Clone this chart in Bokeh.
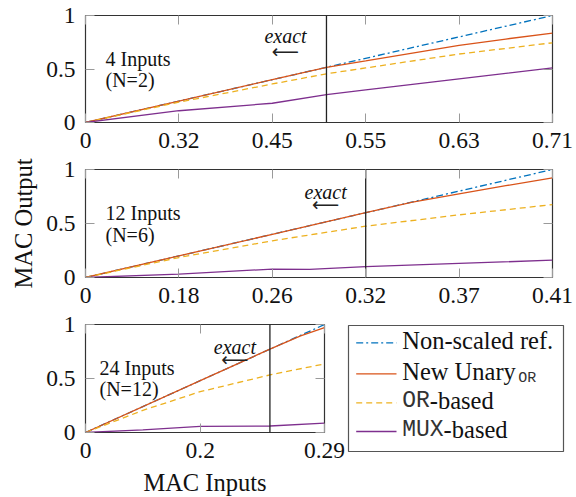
from bokeh.plotting import figure
from bokeh.models import Range1d, FixedTicker, LinearAxis
from bokeh.layouts import column, row
from bokeh.embed import file_html
from bokeh.resources import INLINE
from bokeh.core.properties import value

# ---------------- data ----------------
# Panel 1: 4 inputs (N=2)
p1_x_ticks = [0, 0.1, 0.2, 0.3, 0.4, 0.5]
p1_x_labels = ["0", "0.32", "0.45", "0.55", "0.63", "0.71"]
p1_ref_x = [0, 0.5]
p1_ref_y = [0, 1]
p1_new_x = [0, 0.1, 0.2, 0.258, 0.3, 0.35, 0.4, 0.45, 0.5]
p1_new_y = [0, 0.2, 0.4, 0.516, 0.575, 0.648, 0.72, 0.78, 0.835]
p1_or_x = [0, 0.1, 0.2, 0.258, 0.3, 0.4, 0.5]
p1_or_y = [0, 0.19, 0.36, 0.455, 0.51, 0.64, 0.745]
p1_mux_x = [0, 0.1, 0.2, 0.258, 0.3, 0.4, 0.5]
p1_mux_y = [0, 0.11, 0.18, 0.26, 0.305, 0.408, 0.51]
p1_exact = 0.258

# Panel 2: 12 inputs (N=6)
p2_x_ticks = [0, 1 / 30, 2 / 30, 3 / 30, 4 / 30, 5 / 30]
p2_x_labels = ["0", "0.18", "0.26", "0.32", "0.37", "0.41"]
p2_ref_x = [0, 1 / 6]
p2_ref_y = [0, 1]
p2_new_x = [0, 1 / 30, 2 / 30, 0.1, 0.1167, 0.1333, 0.15, 1 / 6]
p2_new_y = [0, 0.2, 0.4, 0.6, 0.698, 0.775, 0.85, 0.922]
p2_or_x = [0, 1 / 30, 2 / 30, 0.1, 4 / 30, 1 / 6]
p2_or_y = [0, 0.185, 0.34, 0.475, 0.58, 0.675]
p2_mux_x = [0, 1 / 30, 2 / 30, 0.08, 0.1, 4 / 30, 1 / 6]
p2_mux_y = [0, 0.031, 0.078, 0.076, 0.1, 0.13, 0.16]
p2_exact = 0.1

# Panel 3: 24 inputs (N=12)
p3_x_ticks = [0, 0.04, 1 / 12]
p3_x_labels = ["0", "0.2", "0.29"]
p3_ref_x = [0, 1 / 12]
p3_ref_y = [0, 1]
p3_new_x = [0, 0.04, 0.0643, 0.075, 1 / 12]
p3_new_y = [0, 0.48, 0.772, 0.895, 0.97]
p3_or_x = [0, 0.02, 0.04, 0.0643, 1 / 12]
p3_or_y = [0, 0.205, 0.378, 0.533, 0.635]
p3_mux_x = [0, 0.02, 0.04, 0.0643, 1 / 12]
p3_mux_y = [0, 0.025, 0.056, 0.06, 0.087]
p3_exact = 0.0643

y_ticks = [0, 0.5, 1]
y_labels = ["0", "0.5", "1"]

panel_titles = ["4 Inputs", "12 Inputs", "24 Inputs"]
panel_subs = ["(N=2)", "(N=6)", "(N=12)"]

# ---------------- style ----------------
BLUE = "#0072BD"
RED = "#D95319"
ORANGE = "#EDB120"
PURPLE = "#7E2F8E"
SERIF = "Liberation Serif"
MONO = "Liberation Mono"
TICK_FS = "23.5px"
LABEL_FS = "24.5px"
DASHDOT = "7 3 2 3"
DASHED = "6 4"


def style_axis(ax, ticks, labels, show_labels=True):
    ax.ticker = FixedTicker(ticks=ticks)
    ax.major_label_overrides = dict(zip(ticks, labels))
    ax.major_tick_in = 9
    ax.major_tick_out = 0
    ax.minor_tick_line_color = None
    ax.major_tick_line_color = "#9a9a9a"
    ax.major_tick_line_width = 1
    ax.axis_line_color = None
    ax.major_label_text_font = SERIF
    ax.major_label_text_color = "#111111"
    if show_labels:
        ax.major_label_text_font_size = TICK_FS
    else:
        ax.major_label_text_font_size = "0px"
        ax.major_label_standoff = 0


def make_panel(x_end, x_ticks, x_labels, ref, new, orv, mux, exact_x, idx,
               frame_w, frame_h, b_top, b_bottom, b_right,
               title_y, sub_y, title_dx, exact_dx, exact_y, arrow_y,
               y_label=None, x_label=None):
    p = figure(frame_width=frame_w, frame_height=frame_h,
               x_range=Range1d(0, x_end), y_range=Range1d(0, 1),
               min_border_left=85, min_border_right=b_right,
               min_border_top=b_top, min_border_bottom=b_bottom,
               toolbar_location=None, output_backend="svg",
               background_fill_color="white", border_fill_color="white")
    p.grid.visible = False
    p.outline_line_color = "#333333"
    p.outline_line_width = 1.2

    xa = p.xaxis[0]
    style_axis(xa, x_ticks, x_labels)
    xa.major_label_standoff = 10
    ya = p.yaxis[0]
    style_axis(ya, y_ticks, y_labels)
    ya.major_label_standoff = 10

    top = LinearAxis()
    style_axis(top, x_ticks, [""] * len(x_ticks), show_labels=False)
    p.add_layout(top, "above")
    right = LinearAxis()
    style_axis(right, y_ticks, [""] * len(y_ticks), show_labels=False)
    p.add_layout(right, "right")

    if y_label:
        ya.axis_label = y_label
        ya.axis_label_text_font = SERIF
        ya.axis_label_text_font_size = LABEL_FS
        ya.axis_label_text_font_style = "normal"
        ya.axis_label_text_color = "#111111"
        ya.axis_label_standoff = 6
    if x_label:
        xa.axis_label = x_label
        xa.axis_label_text_font = SERIF
        xa.axis_label_text_font_size = LABEL_FS
        xa.axis_label_text_font_style = "normal"
        xa.axis_label_text_color = "#111111"
        xa.axis_label_standoff = 8

    p.line(ref[0], ref[1], line_color=BLUE, line_width=1.3, line_dash=DASHDOT)
    p.line(new[0], new[1], line_color=RED, line_width=1.3)
    p.line(orv[0], orv[1], line_color=ORANGE, line_width=1.3, line_dash=DASHED)
    p.line(mux[0], mux[1], line_color=PURPLE, line_width=1.3)

    p.segment(x0=[exact_x], y0=[0], x1=[exact_x], y1=[1],
              line_color="#222222", line_width=1.3)

    p.text(x=[exact_x], y=[exact_y], text=["exact"], x_offset=exact_dx,
           text_font=value(SERIF), text_font_style="italic", text_font_size="20px",
           text_align="center", text_baseline="alphabetic", text_color="#111111")
    p.text(x=[exact_x], y=[arrow_y], text=["\u27f5"], x_offset=exact_dx,
           text_font=value("DejaVu Sans"), text_font_size="19px",
           text_align="center", text_baseline="middle", text_color="#222222")

    p.text(x=[0], y=[title_y], text=[panel_titles[idx]], x_offset=title_dx,
           text_font=value(SERIF), text_font_size="20px",
           text_align="left", text_baseline="alphabetic", text_color="#111111")
    p.text(x=[0], y=[sub_y], text=[panel_subs[idx]], x_offset=title_dx,
           text_font=value(SERIF), text_font_size="20px",
           text_align="left", text_baseline="alphabetic", text_color="#111111")
    return p


p1 = make_panel(0.5, p1_x_ticks, p1_x_labels, (p1_ref_x, p1_ref_y), (p1_new_x, p1_new_y),
                (p1_or_x, p1_or_y), (p1_mux_x, p1_mux_y), p1_exact, 0,
                467, 107, 15, 34, 24,
                0.59, 0.395, 20, -41, 0.805, 0.668)
p2 = make_panel(1 / 6, p2_x_ticks, p2_x_labels, (p2_ref_x, p2_ref_y), (p2_new_x, p2_new_y),
                (p2_or_x, p2_or_y), (p2_mux_x, p2_mux_y), p2_exact, 1,
                467, 108, 13, 34, 24,
                0.595, 0.39, 20, -40, 0.79, 0.676, y_label="MAC Output")
p3 = make_panel(1 / 12, p3_x_ticks, p3_x_labels, (p3_ref_x, p3_ref_y), (p3_new_x, p3_new_y),
                (p3_or_x, p3_or_y), (p3_mux_x, p3_mux_y), p3_exact, 2,
                239, 108, 13, 65, 22,
                0.595, 0.405, 14, -35, 0.79, 0.676, x_label="MAC Inputs")

# ---------------- legend (separate canvas in pixel units) ----------------
LW, LH = 230, 186
leg = figure(frame_width=LW, frame_height=LH, x_range=Range1d(0, LW), y_range=Range1d(LH, 0),
             min_border=0, toolbar_location=None, output_backend="svg",
             x_axis_type=None, y_axis_type=None,
             background_fill_color="white", border_fill_color="white")
leg.grid.visible = False
leg.outline_line_color = None

leg.quad(left=[2], right=[217], top=[14], bottom=[140],
         fill_color="white", line_color="#555555", line_width=1.2)

row_y = [31.3, 62.3, 91.3, 120.0]
colors = [BLUE, RED, ORANGE, PURPLE]
dashes = [DASHDOT, "solid", DASHED, "solid"]
for yy, c, d in zip(row_y, colors, dashes):
    leg.line([9.7, 50], [yy, yy], line_color=c, line_width=1.3, line_dash=d)

TX = 55.7
MAIN_FS = 24.5
MONO_FS = 23
mono_char = 0.6 * MONO_FS
BL = -2  # text baseline offset from sample line

leg.text(x=[TX, TX], y=[row_y[0] + BL, row_y[1] + BL],
         text=["Non-scaled ref.", "New Unary"],
         text_font=value(SERIF), text_font_size=f"{MAIN_FS}px",
         text_align="left", text_baseline="alphabetic", text_color="#111111")
leg.text(x=[TX + 116], y=[row_y[1] + BL + 7], text=["OR"],
         text_font=value(MONO), text_font_size="15px",
         text_align="left", text_baseline="alphabetic", text_color="#333333")
leg.text(x=[TX, TX], y=[row_y[2] + BL, row_y[3] + BL], text=["OR", "MUX"],
         text_font=value(MONO), text_font_size=f"{MONO_FS}px",
         text_align="left", text_baseline="alphabetic", text_color="#333333")
leg.text(x=[TX + 2 * mono_char, TX + 3 * mono_char], y=[row_y[2] + BL, row_y[3] + BL],
         text=["-based", "-based"],
         text_font=value(SERIF), text_font_size=f"{MAIN_FS}px",
         text_align="left", text_baseline="alphabetic", text_color="#111111")

layout = column(p1, p2, row(column(p3), column(leg)), spacing=0)

open("out.html", "w").write(file_html(layout, INLINE))
